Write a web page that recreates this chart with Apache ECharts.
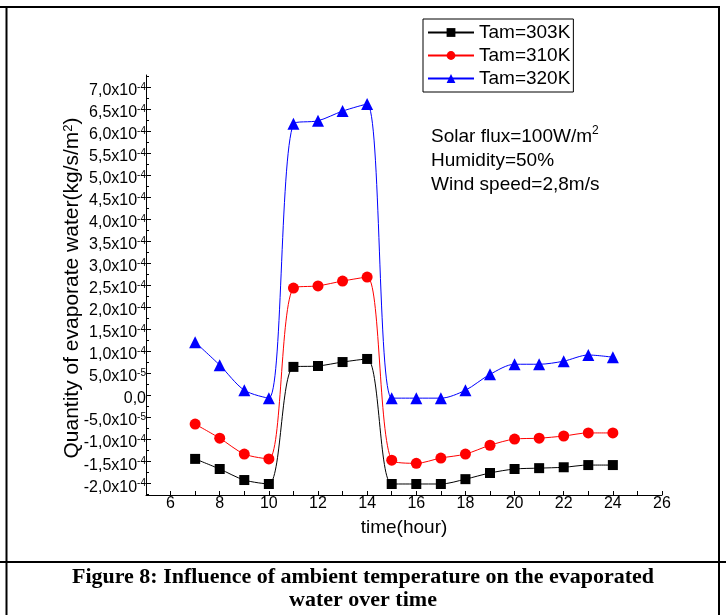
<!DOCTYPE html>
<html>
<head>
<meta charset="utf-8">
<script src="https://cdn.jsdelivr.net/npm/echarts@6/dist/echarts.min.js"></script>
<style>
html,body{margin:0;padding:0;background:#fff;}
#chart{width:726px;height:615px;}
</style>
</head>
<body>
<div id="chart"></div>
<script>
// ---- data ----
var hours = [7, 8, 9, 10, 11, 12, 13, 14, 15, 16, 17, 18, 19, 20, 21, 22, 23, 24];
var tam303 = [-1.45e-4, -1.68e-4, -1.93e-4, -2.02e-4, 0.64e-4, 0.66e-4, 0.75e-4, 0.82e-4, -2.02e-4, -2.02e-4, -2.02e-4, -1.91e-4, -1.77e-4, -1.68e-4, -1.66e-4, -1.64e-4, -1.59e-4, -1.59e-4];
var tam310 = [-0.66e-4, -0.98e-4, -1.34e-4, -1.45e-4, 2.43e-4, 2.48e-4, 2.59e-4, 2.68e-4, -1.48e-4, -1.55e-4, -1.43e-4, -1.34e-4, -1.14e-4, -1.00e-4, -0.98e-4, -0.93e-4, -0.86e-4, -0.86e-4];
var tam320 = [1.20e-4, 0.68e-4, 0.11e-4, -0.07e-4, 6.16e-4, 6.23e-4, 6.45e-4, 6.61e-4, -0.07e-4, -0.07e-4, -0.07e-4, 0.11e-4, 0.47e-4, 0.70e-4, 0.70e-4, 0.77e-4, 0.91e-4, 0.86e-4];
var seriesNames = ['Tam=303K', 'Tam=310K', 'Tam=320K'];
var xTickLabels = [6, 8, 10, 12, 14, 16, 18, 20, 22, 24, 26];
var xTicks = [5, 6, 7, 8, 9, 10, 11, 12, 13, 14, 15, 16, 17, 18, 19, 20, 21, 22, 23, 24, 25, 26];
var yTickLabels = [-2.0e-4, -1.5e-4, -1.0e-4, -5.0e-5, 0, 5.0e-5, 1.0e-4, 1.5e-4, 2.0e-4, 2.5e-4, 3.0e-4, 3.5e-4, 4.0e-4, 4.5e-4, 5.0e-4, 5.5e-4, 6.0e-4, 6.5e-4, 7.0e-4];
var yMinorTicks = [-2.25e-4, -1.75e-4, -1.25e-4, -0.75e-4, -0.25e-4, 0.25e-4, 0.75e-4, 1.25e-4, 1.75e-4, 2.25e-4, 2.75e-4, 3.25e-4, 3.75e-4, 4.25e-4, 4.75e-4, 5.25e-4, 5.75e-4, 6.25e-4, 6.75e-4, 7.25e-4];
var xTitle = 'time(hour)';
var yTitle = 'Quantity of evaporate water(kg/s/m{sup|2})';
var noteText = 'Solar flux=100W/m{sup|2}\nHumidity=50%\nWind speed=2,8m/s';
var caption = 'Figure 8: Influence of ambient temperature on the evaporated\nwater over time';

function pairs(ys) { return hours.map(function (h, i) { return [h, ys[i]]; }); }

function sciLabel(v) {
  if (Math.abs(v) < 1e-12) return '{b|0,0}';
  var e = Math.floor(Math.log10(Math.abs(v)) + 1e-9);
  var m = v / Math.pow(10, e);
  return '{b|' + m.toFixed(1).replace('.', ',') + 'x10}{e|' + e + '}';
}

var FONT = 'Liberation Sans';
var chart = echarts.init(document.getElementById('chart'), null, { renderer: 'canvas' });

var option = {
  backgroundColor: '#fff',
  animation: false,
  grid: { left: 146, right: 64, top: 75, bottom: 120, containLabel: false },
  legend: {
    orient: 'vertical',
    left: 423, top: 19,
    padding: [4, 3, 4, 4],
    itemGap: 4,
    itemWidth: 46, itemHeight: 11,
    borderColor: '#000', borderWidth: 1,
    textStyle: { fontFamily: FONT, fontSize: 19, color: '#000' },
    data: seriesNames
  },
  xAxis: {
    type: 'value', min: 5, max: 26,
    axisLine: { show: true, onZero: false, lineStyle: { color: '#000', width: 1 } },
    axisTick: { show: true, inside: true, length: 4, customValues: xTicks, lineStyle: { color: '#000' } },
    axisLabel: { customValues: xTickLabels, margin: 1, fontFamily: FONT, fontSize: 16, color: '#000' },
    splitLine: { show: false }
  },
  yAxis: [{
    type: 'value', min: -2.27e-4, max: 7.27e-4,
    axisLine: { show: true, onZero: false, lineStyle: { color: '#000', width: 1 } },
    axisTick: { show: true, inside: true, length: 5, customValues: yTickLabels, lineStyle: { color: '#000' } },
    axisLabel: {
      customValues: yTickLabels, margin: 0,
      padding: [8, 0, 0, 0],
      formatter: sciLabel,
      rich: {
        b: { fontFamily: FONT, fontSize: 16, color: '#000', lineHeight: 18 },
        e: { fontFamily: FONT, fontSize: 10, color: '#000', verticalAlign: 'top', lineHeight: 18 }
      }
    },
    splitLine: { show: false }
  }, {
    type: 'value', min: -2.27e-4, max: 7.27e-4, position: 'left',
    axisLine: { show: false },
    axisTick: { show: true, inside: true, length: 3, customValues: yMinorTicks, lineStyle: { color: '#000' } },
    axisLabel: { show: false },
    splitLine: { show: false }
  }],
  graphic: [
    { type: 'line', shape: { x1: 0, y1: 7, x2: 720, y2: 7 }, style: { stroke: '#000', lineWidth: 2 } },
    { type: 'line', shape: { x1: 6.5, y1: 7, x2: 6.5, y2: 615 }, style: { stroke: '#000', lineWidth: 2 } },
    { type: 'line', shape: { x1: 719, y1: 6, x2: 719, y2: 615 }, style: { stroke: '#000', lineWidth: 2 } },
    { type: 'line', shape: { x1: 0, y1: 562, x2: 726, y2: 562 }, style: { stroke: '#000', lineWidth: 2 } },
    {
      type: 'text', x: 72, y: 288, rotation: Math.PI / 2,
      style: {
        text: yTitle, align: 'center', verticalAlign: 'middle',
        fontFamily: FONT, fontSize: 21, fill: '#000',
        rich: { sup: { fontFamily: FONT, fontSize: 13, verticalAlign: 'top', fill: '#000' } }
      }
    },
    {
      type: 'text', x: 404, y: 528,
      style: { text: xTitle, align: 'center', verticalAlign: 'middle', fontFamily: FONT, fontSize: 19, fill: '#000' }
    },
    {
      type: 'text', x: 431, y: 125,
      style: {
        text: noteText, align: 'left', verticalAlign: 'top', lineHeight: 24,
        fontFamily: FONT, fontSize: 19, fill: '#000',
        rich: { sup: { fontFamily: FONT, fontSize: 12, verticalAlign: 'top', fill: '#000', lineHeight: 24 } }
      }
    },
    {
      type: 'text', x: 363, y: 566,
      style: {
        text: caption, align: 'center', verticalAlign: 'top', lineHeight: 23,
        fontFamily: 'Liberation Serif', fontWeight: 'bold', fontSize: 22, fill: '#000'
      }
    }
  ],
  series: [
    {
      name: seriesNames[0], type: 'line', data: pairs(tam303), smooth: 0.3,
      symbol: 'rect', symbolSize: 10,
      lineStyle: { color: '#000', width: 1 }, itemStyle: { color: '#000' }
    },
    {
      name: seriesNames[1], type: 'line', data: pairs(tam310), smooth: 0.3,
      symbol: 'circle', symbolSize: 11,
      lineStyle: { color: '#ff0000', width: 1 }, itemStyle: { color: '#ff0000' }
    },
    {
      name: seriesNames[2], type: 'line', data: pairs(tam320), smooth: 0.3,
      symbol: 'triangle', symbolSize: 12,
      lineStyle: { color: '#0000ff', width: 1 }, itemStyle: { color: '#0000ff' }
    }
  ]
};
chart.setOption(option);
</script>
</body>
</html>
